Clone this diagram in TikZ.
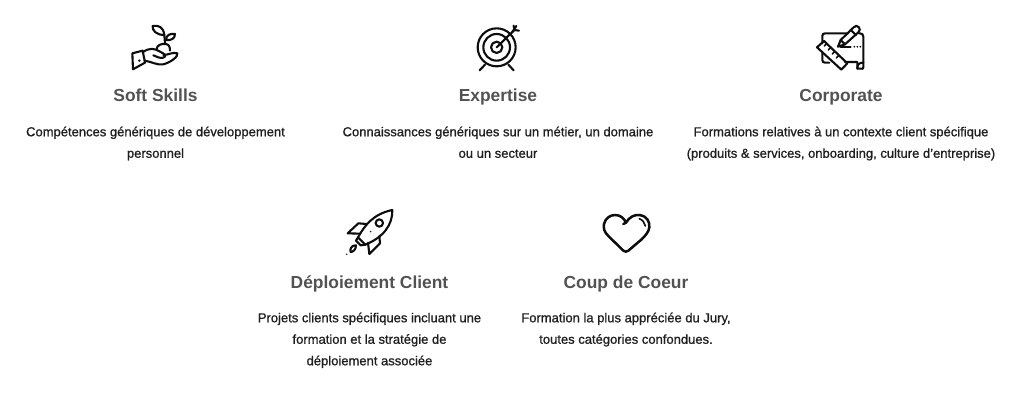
\documentclass[tikz,border=0pt]{standalone}
\usepackage{fontspec}
\setmainfont{Liberation Sans}
\newfontfamily\bodyfont[FakeBold=0.9]{Liberation Sans}
\tikzset{
  titlelabel/.style={anchor=base,inner sep=0pt,text=black!68,font=\fontsize{17.4}{20}\selectfont\bfseries},
  bodylabel/.style={anchor=north,inner sep=0pt,align=center,text=black!88,font=\bodyfont\fontsize{13}{21.5}\selectfont},
  icon/.style={draw=black!95,line width=2.1pt,line cap=round,line join=round,fill=none},
  iconthin/.style={draw=black!95,line width=1.6pt,line cap=round,line join=round,fill=none},
}
\begin{document}
\begin{tikzpicture}[x=1pt,y=-1pt]
\path[fill=white] (0,0) rectangle (1024,403);
\useasboundingbox (0,0) rectangle (1024,403);
% titles
\node[titlelabel] (t1) at (155.5,102) {Soft Skills};
\node[titlelabel] (t2) at (498,102) {Expertise};
\node[titlelabel] (t3) at (841,102) {Corporate};
\node[titlelabel] (t4) at (369.5,288) {Déploiement Client};
\node[titlelabel] (t5) at (626,288) {Coup de Coeur};
% bodies
\node[bodylabel] (b1) at (155.5,126.5) {Compétences génériques de développement\\personnel};
\node[bodylabel] (b2) at (498,126.5) {Connaissances génériques sur un métier, un domaine\\ou un secteur};
\node[bodylabel] (b3) at (841,126.5) {Formations relatives à un contexte client spécifique\\(produits \& services, onboarding, culture d’entreprise)};
\node[bodylabel] (b4) at (369.5,312.5) {Projets clients spécifiques incluant une\\formation et la stratégie de\\déploiement associée};
\node[bodylabel] (b5) at (626,312.5) {Formation la plus appréciée du Jury,\\toutes catégories confondues.};
% plant + hand
\begin{scope}[shift={(110,10)},x=0.3333pt,y=-0.3333pt]
\draw[icon] (69,178) -- (67,130) -- (98,122) -- (105,158) -- cycle;
\draw[icon] (98,127) .. controls (118,112) and (135,115) .. (150,125) .. controls (165,132) and (172,138) .. (160,143) .. controls (150,146) and (140,140) .. (130,136);
\draw[icon] (160,135) .. controls (175,135) and (190,125) .. (202,130) .. controls (206,140) and (180,158) .. (160,163) .. controls (140,166) and (125,155) .. (104,152);
\draw[icon] (140,118) .. controls (140,105) and (155,100) .. (168,102) .. controls (178,104) and (180,112) .. (180,122);
\draw[icon] (165,100) -- (163,75);
\draw[icon] (163,75) .. controls (160,50) and (145,45) .. (128,48) .. controls (126,62) and (140,75) .. (163,75) -- cycle;
\draw[icon] (168,90) .. controls (168,75) and (180,70) .. (195,72) .. controls (195,85) and (185,92) .. (168,90) -- cycle;
\fill[black!90] (88,152) circle (4);
\end{scope}
% target
\begin{scope}[shift={(455,10)},x=0.3333pt,y=-0.3333pt]
\draw[icon] (125,112) circle (57);
\draw[icon] (125,112) circle (40);
\draw[icon] (125,112) circle (17);
\draw[icon] (125,112) -- (178,60);
\draw[icon] (178,60) -- (176,47);
\draw[icon] (178,60) -- (192,62);
\draw[icon] (172,66) -- (184,48);
\draw[icon] (90,164) -- (74,181);
\draw[icon] (160,164) -- (176,181);
\end{scope}
% corporate
\begin{scope}[shift={(800,10)},x=0.3333pt,y=-0.3333pt]
\draw[icon] (67,100) -- (67,78) .. controls (67,72) and (70,70) .. (76,70) -- (144,70);
\draw[icon] (176,70) -- (180,70) .. controls (186,70) and (190,74) .. (190,80) -- (190,172) .. controls (190,178) and (186,176) .. (184,176) -- (172,176) -- (172,156) -- (135,156);
\draw[icon] (67,128) -- (67,150) .. controls (67,156) and (70,158) .. (76,158) -- (88,158);
\draw[icon] (190,158) .. controls (178,158) and (172,162) .. (172,176);
\draw[icon] (51,112) -- (72,93) -- (142,160) -- (124,179) -- cycle;
\foreach \a/\b in {80/101,92/113,104/125,116/137}{\draw[iconthin] (\a,\b) -- (\a-7,\b+7);}
\draw[icon] (114,110) -- (122,90) -- (161,52) .. controls (166,46) and (172,46) .. (177,52) .. controls (181,57) and (180,62) .. (175,67) -- (135,103) -- cycle;
\draw[icon] (152,60) -- (168,75);
\draw[icon] (122,90) -- (135,103);
\draw[icon] (122,110) -- (152,110);
\fill[black!90] (163,110) circle (3) (172,110) circle (3) (181,110) circle (3);
\end{scope}
% rocket
\begin{scope}[shift={(330,200)},x=0.3333pt,y=-0.3333pt]
\draw[icon] (84,112) .. controls (105,75) and (130,42) .. (187,30) .. controls (188,75) and (160,112) .. (106,134) -- cycle;
\draw[icon] (148,69) circle (11);
\draw[icon] (110,72) -- (85,70) -- (53,100) -- (90,101);
\draw[icon] (148,108) -- (150,130) -- (118,162) -- (114,128);
\draw[icon] (84,112) -- (78,122) -- (92,136) -- (106,134);
\draw[icon] (78,136) .. controls (65,135) and (58,148) .. (62,156) .. controls (68,156) and (78,150) .. (78,136) -- cycle;
\fill[black!90] (50,163) circle (2.5) (122,95) circle (2.5);
\end{scope}
% heart
\begin{scope}[shift={(590,200)},x=0.3333pt,y=-0.3333pt]
\draw[icon,line width=2.5pt] (108,68) .. controls (118,50) and (135,43) .. (150,45) .. controls (170,48) and (180,65) .. (178,82) .. controls (177,95) and (165,108) .. (155,118) -- (115,152) .. controls (110,156) and (105,156) .. (100,152) -- (55,108) .. controls (42,95) and (40,85) .. (42,72) .. controls (46,55) and (60,45) .. (75,45) .. controls (92,45) and (102,55) .. (108,68) -- (100,72);
\draw[iconthin] (148,56) .. controls (158,60) and (164,68) .. (166,78);
\end{scope}
\end{tikzpicture}
\end{document}
